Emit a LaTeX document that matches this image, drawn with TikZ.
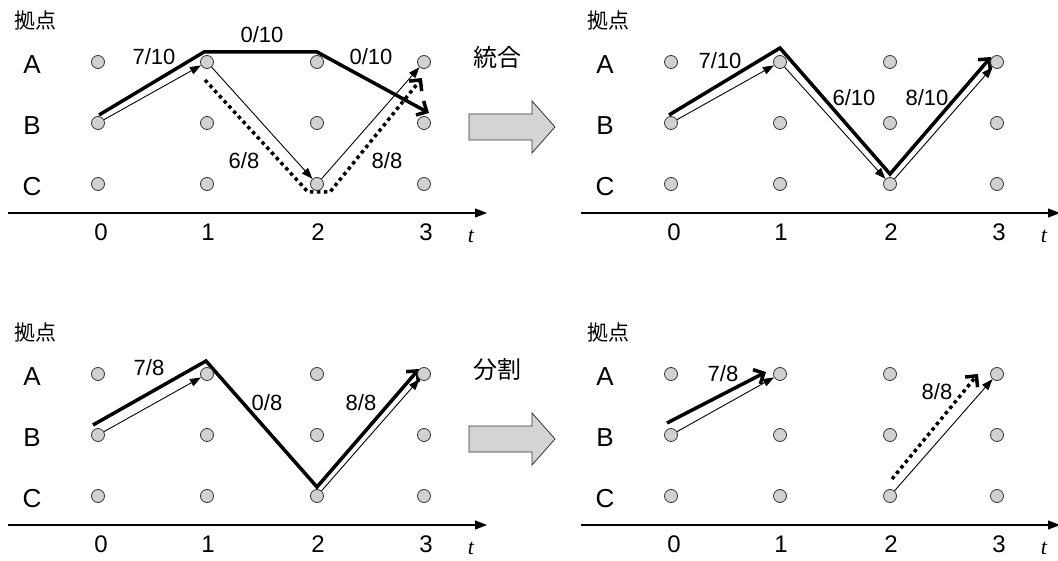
\documentclass[tikz,border=0pt]{standalone}
\usepackage{fontspec}
\setmainfont{Liberation Sans}
\newfontfamily\cjk{Noto Sans CJK JP}
\newfontfamily\tfont{Liberation Serif}
\usetikzlibrary{arrows.meta,backgrounds,calc}
\tikzset{
  dot/.style={circle, draw=black!80, fill=black!18, line width=0.8pt, minimum size=13pt, inner sep=0pt},
  thinarr/.style={line width=0.9pt, -{Triangle[length=11pt,width=8pt]}},
  thickline/.style={line width=3.5pt, line join=miter},
  dotline/.style={line width=3.5pt, dash pattern=on 3.5pt off 3.5pt},
  barb/.style={-{Straight Barb[length=8pt,width=16pt]}},
  axisline/.style={line width=1.1pt, -{Triangle[length=12pt,width=9pt]}},
  rowlab/.style={font=\fontsize{26}{30}\selectfont, inner sep=0pt},
  fraclab/.style={font=\fontsize{22}{26}\selectfont, inner sep=0pt},
  axlab/.style={font=\fontsize{24}{28}\selectfont, inner sep=0pt},
  tlab/.style={font=\tfont\itshape\fontsize{22}{26}\selectfont, inner sep=0pt},
  hdlab/.style={font=\cjk\fontsize{21}{24}\selectfont, inner sep=0pt},
  biglab/.style={font=\cjk\fontsize{24}{28}\selectfont, inner sep=0pt},
  blockarrow/.style={draw=black!80, fill=black!17, line width=0.8pt, line join=miter},
}
\newcommand\mygrid[1]{%
  \foreach \cc/\xx in {0/98,1/207,2/317,3/424}{
    \foreach \rr/\yy in {A/62,B/123,C/184}{
      \node[dot] (#1\rr\cc) at (\xx,\yy) {};
    }
  }
  \node[rowlab] (#1lA) at (32,65) {A};
  \node[rowlab] (#1lB) at (32,126) {B};
  \node[rowlab] (#1lC) at (32,187) {C};
  \node[hdlab] (#1hd) at (35,21) {拠点};
  \coordinate (#1ax0) at (8,213);
  \coordinate (#1ax1) at (487,213);
  \draw[axisline] (#1ax0) -- (#1ax1);
  \node[axlab] (#1t0) at (101,232) {0};
  \node[axlab] (#1t1) at (208,232) {1};
  \node[axlab] (#1t2) at (318,232) {2};
  \node[axlab] (#1t3) at (426,232) {3};
  \node[tlab] (#1tt) at (471,236) {t};
}
\begin{document}
\begin{tikzpicture}[x=1pt,y=-1pt]
\useasboundingbox (0,0) rectangle (1058,561);

% ---------- panel a (top left)
\begin{scope}
  \mygrid{a}
  \begin{scope}[on background layer]
    \draw[thinarr] (aB0) -- (aA1);
    \draw[thinarr] (aA1) -- (aC2);
    \draw[thinarr] (aC2) -- (aA3);
    \draw[thickline, barb] ([shift={(1,-8)}]aB0.center) -- ([shift={(-3,-10)}]aA1.center)
      -- ([shift={(0,-10)}]aA2.center) -- ([shift={(5,-10)}]aB3.center);
    \draw[dotline, barb] ([shift={(-2,18)}]aA1.center) -- ([shift={(-9,8)}]aC2.center)
      -- ([shift={(13,8)}]aC2.center) -- ([shift={(-2,16)}]aA3.center);
  \end{scope}
  \node[fraclab] (af1) at (154,57) {7/10};
  \node[fraclab] (af2) at (262,35) {0/10};
  \node[fraclab] (af3) at (371,57) {0/10};
  \node[fraclab] (af4) at (244,161) {6/8};
  \node[fraclab] (af5) at (387,161) {8/8};
\end{scope}

% ---------- panel b (top right)
\begin{scope}[shift={(573,0)}]
  \mygrid{b}
  \begin{scope}[on background layer]
    \draw[thinarr] (bB0) -- (bA1);
    \draw[thinarr] (bA1) -- (bC2);
    \draw[thinarr] (bC2) -- (bA3);
    \draw[thickline, barb] ([shift={(-2,-8)}]bB0.center) -- ([shift={(0,-14)}]bA1.center)
      -- ([shift={(0,-10)}]bC2.center) -- ([shift={(-6,-5)}]bA3.center);
  \end{scope}
  \node[fraclab] (bf1) at (147,61) {7/10};
  \node[fraclab] (bf2) at (281,98) {6/10};
  \node[fraclab] (bf3) at (354,98) {8/10};
\end{scope}

% ---------- panel c (bottom left)
\begin{scope}[shift={(0,312)}]
  \mygrid{c}
  \begin{scope}[on background layer]
    \draw[thinarr] (cB0) -- (cA1);
    \draw[thinarr] (cC2) -- (cA3);
    \draw[thickline, barb] ([shift={(-5,-10)}]cB0.center) -- ([shift={(-1,-13)}]cA1.center)
      -- ([shift={(0,-9)}]cC2.center) -- ([shift={(-5,-5)}]cA3.center);
  \end{scope}
  \node[fraclab] (cf1) at (149,56) {7/8};
  \node[fraclab] (cf2) at (267,91) {0/8};
  \node[fraclab] (cf3) at (361,91) {8/8};
\end{scope}

% ---------- panel d (bottom right)
\begin{scope}[shift={(573,312)}]
  \mygrid{d}
  \begin{scope}[on background layer]
    \draw[thinarr] (dB0) -- (dA1);
    \draw[thinarr] (dC2) -- (dA3);
    \draw[thickline, barb] ([shift={(-4,-12)}]dB0.center) -- ([shift={(-14,-2)}]dA1.center);
    \draw[dotline, barb] ([shift={(2,-17)}]dC2.center) -- ([shift={(-19,0)}]dA3.center);
  \end{scope}
  \node[fraclab] (df1) at (150,62) {7/8};
  \node[fraclab] (df2) at (364,80) {8/8};
\end{scope}

% ---------- block arrows and captions
\node[biglab] (merge) at (497,57) {統合};
\draw[blockarrow] (469,114) -- (532,114) -- (532,101) -- (555,127) -- (532,153) -- (532,140) -- (469,140) -- cycle;
\node[biglab] (split) at (497,369) {分割};
\draw[blockarrow] (469,426) -- (532,426) -- (532,413) -- (555,439) -- (532,465) -- (532,452) -- (469,452) -- cycle;
\end{tikzpicture}
\end{document}
